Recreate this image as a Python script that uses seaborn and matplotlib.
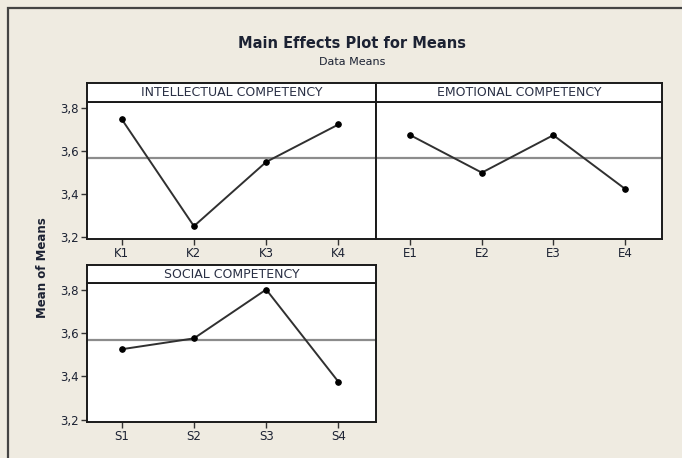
import numpy as np
import pandas as pd
import matplotlib
matplotlib.use("Agg")
import matplotlib.pyplot as plt
import seaborn as sns
from matplotlib.patches import Rectangle

sns.set_style("white")
plt.rcParams["font.family"] = ["DejaVu Sans"]

# data
intel_levels = ["K1", "K2", "K3", "K4"]
intel_means = [3.75, 3.25, 3.55, 3.725]
emo_levels = ["E1", "E2", "E3", "E4"]
emo_means = [3.675, 3.50, 3.675, 3.425]
soc_levels = ["S1", "S2", "S3", "S4"]
soc_means = [3.525, 3.575, 3.80, 3.375]
y_ticks = [3.2, 3.4, 3.6, 3.8]
y_tick_labels = ["3,2", "3,4", "3,6", "3,8"]

W, H = 682, 458
bg = "#efebe1"
txt = "#1c2233"

fig = plt.figure(figsize=(W / 100, H / 100), dpi=100, facecolor=bg)


def box(x0, y0, x1, y1):
    # pixel box -> figure fraction rect
    return [x0 / W, 1 - y1 / H, (x1 - x0) / W, (y1 - y0) / H]


# outer frame of the graph window
fig.patches.append(Rectangle((8 / W, -0.1), 1.2, 1 - 8 / H + 0.1,
                             transform=fig.transFigure, fill=False,
                             edgecolor="#444444", linewidth=1.6))

fig.text(352 / W, 1 - 43 / H, "Main Effects Plot for Means", ha="center",
         va="center", fontsize=10.5, fontweight="bold", color=txt)
fig.text(352 / W, 1 - 62 / H, "Data Means", ha="center", va="center",
         fontsize=8, color=txt)
fig.text(42 / W, 1 - 268 / H, "Mean of Means", rotation=90, ha="center",
         va="center", fontsize=8.5, fontweight="bold", color=txt)

panels = [
    ("INTELLECTUAL COMPETENCY", intel_levels, intel_means, (87, 83, 376, 102, 239), True),
    ("EMOTIONAL COMPETENCY", emo_levels, emo_means, (376, 83, 662, 102, 239), False),
    ("SOCIAL COMPETENCY", soc_levels, soc_means, (87, 265, 376, 283, 422), True),
]

for title, levels, means, (x0, ys, x1, yt, yb), show_y in panels:
    ax = fig.add_axes(box(x0, yt, x1, yb))
    df = pd.DataFrame({"pos": np.arange(len(levels)), "mean": means})
    ax.axhline(np.mean(means), color="#8c8c8c", linewidth=1.6, zorder=1)
    sns.lineplot(data=df, x="pos", y="mean", ax=ax, color="#303030",
                 linewidth=1.4, marker="o", markersize=4,
                 markerfacecolor="black", markeredgecolor="black", zorder=3)
    ax.set_xlim(-0.48, 3.52)
    ax.set_ylim(3.19, 3.83)
    ax.set_xticks(df["pos"])
    ax.set_xticklabels(levels)
    ax.set_xlabel("")
    ax.set_ylabel("")
    ax.set_facecolor("white")
    for s in ax.spines.values():
        s.set_color("#1a1a1a")
        s.set_linewidth(1.4)
    ax.tick_params(axis="x", direction="out", length=4, width=1, color="#333333",
                   labelsize=8.5, labelcolor=txt, pad=2, bottom=True)
    if show_y:
        ax.set_yticks(y_ticks)
        ax.set_yticklabels(y_tick_labels)
        ax.tick_params(axis="y", direction="out", length=4, width=1,
                       color="#333333", labelsize=8.5, labelcolor=txt, pad=2,
                       left=True)
    else:
        ax.set_yticks([])

    sax = fig.add_axes(box(x0, ys, x1, yt))
    sax.set_facecolor("white")
    sax.set_xticks([])
    sax.set_yticks([])
    for s in sax.spines.values():
        s.set_color("#1a1a1a")
        s.set_linewidth(1.4)
    sax.text(0.5, 0.5, title, ha="center", va="center", fontsize=9,
             color="#2a3045", transform=sax.transAxes)

fig.savefig("out.png", dpi=100, facecolor=bg)
